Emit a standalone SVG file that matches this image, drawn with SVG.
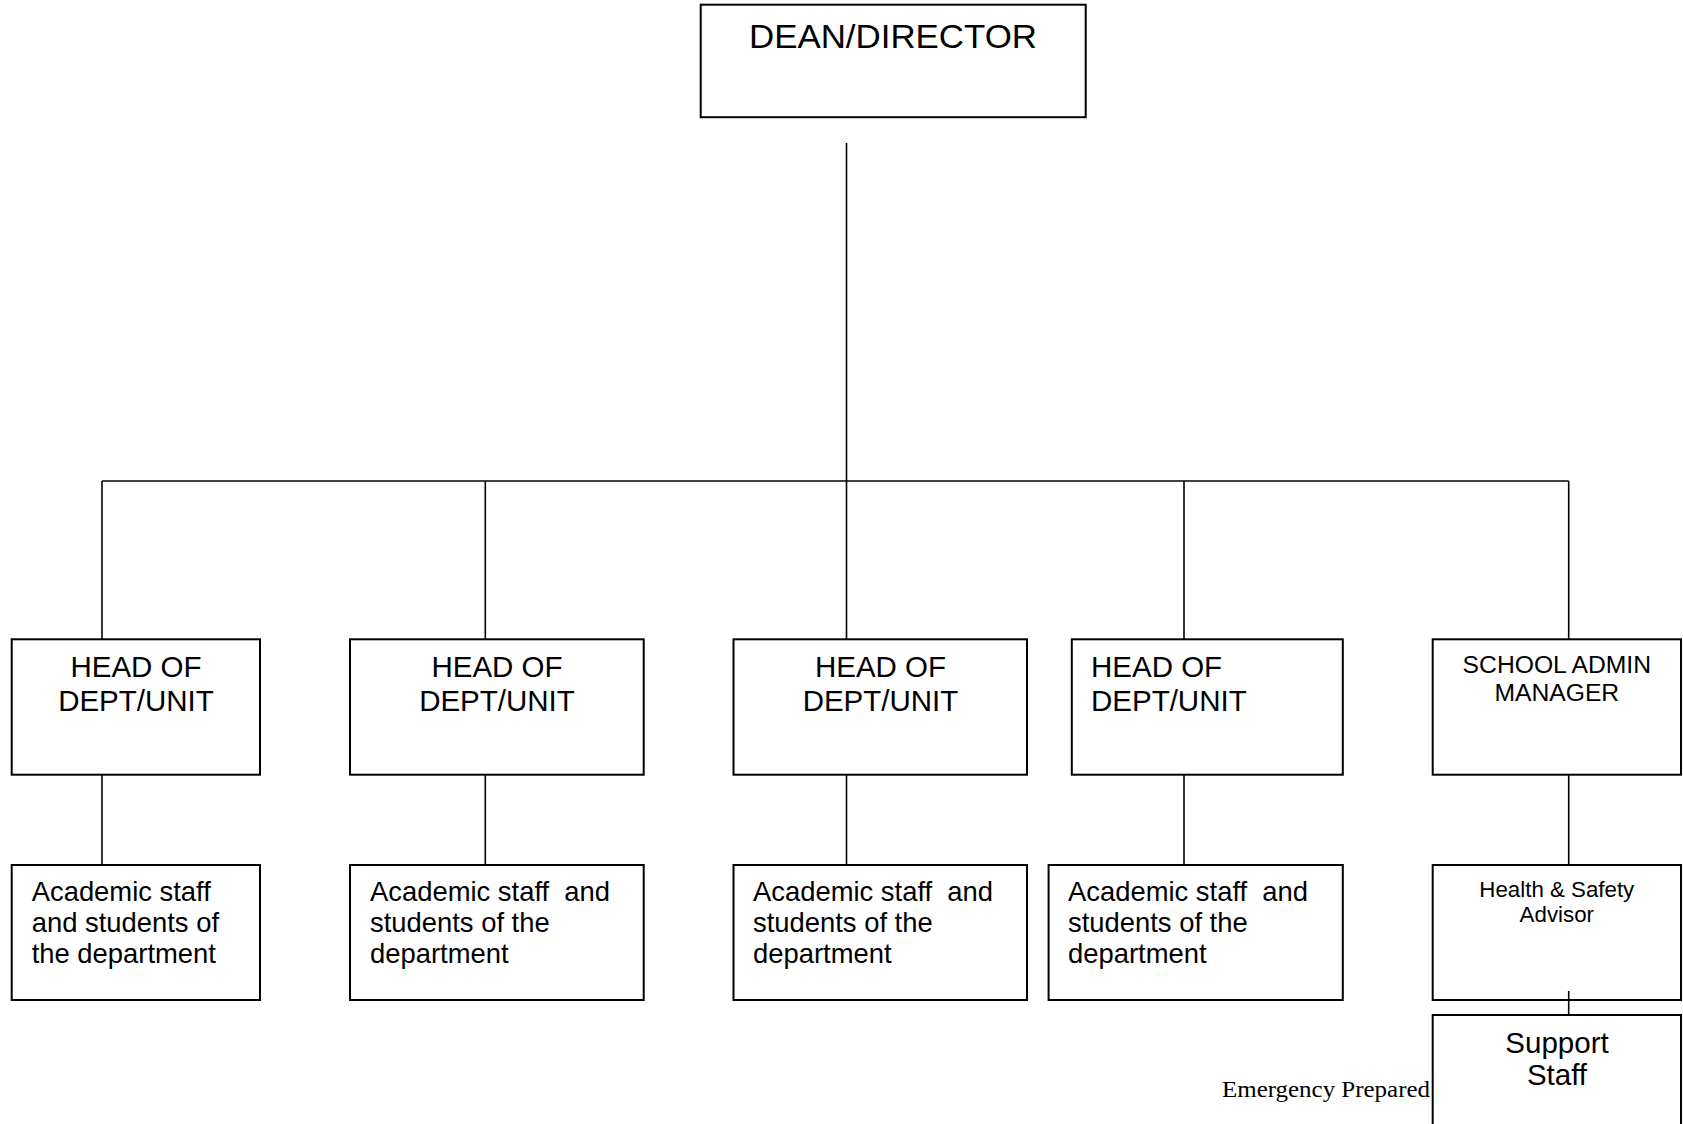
<svg xmlns="http://www.w3.org/2000/svg" width="1683" height="1124" viewBox="0 0 1683 1124">
<style>
.box{fill:#fff;stroke:#000;stroke-width:2}
.ln{stroke:#000;stroke-width:1.6;fill:none}
.t{font-family:"Liberation Sans",Arial,sans-serif;fill:#000;white-space:pre}
.h{font-size:29.5px;text-anchor:middle}
.a{font-size:27.4px}
.s{font-size:24.7px;text-anchor:middle}
.hs{font-size:22.3px;text-anchor:middle}
.ser{font-family:"Liberation Serif","Times New Roman",serif;font-size:23px;fill:#000}
</style>
<rect width="1683" height="1124" fill="#fff"/>
<text class="ser" x="1222" y="1097" textLength="208" lengthAdjust="spacingAndGlyphs">Emergency Prepared</text>
<g id="connectors">
<line class="ln" x1="846.5" y1="143" x2="846.5" y2="481"/>
<line class="ln" x1="102" y1="481" x2="1568.7" y2="481"/>
<line class="ln" x1="102" y1="481" x2="102" y2="639"/>
<line class="ln" x1="485.3" y1="481" x2="485.3" y2="639"/>
<line class="ln" x1="846.5" y1="481" x2="846.5" y2="639"/>
<line class="ln" x1="1184" y1="481" x2="1184" y2="639"/>
<line class="ln" x1="1568.7" y1="481" x2="1568.7" y2="639"/>
<line class="ln" x1="102" y1="775" x2="102" y2="865"/>
<line class="ln" x1="485.3" y1="775" x2="485.3" y2="865"/>
<line class="ln" x1="846.5" y1="775" x2="846.5" y2="865"/>
<line class="ln" x1="1184" y1="775" x2="1184" y2="865"/>
<line class="ln" x1="1568.7" y1="775" x2="1568.7" y2="865"/>
</g>
<g id="dean">
<rect class="box" x="700.7" y="4.7" width="385" height="112.5"/>
<text class="t" x="893" y="48" font-size="34" text-anchor="middle" textLength="288" lengthAdjust="spacingAndGlyphs">DEAN/DIRECTOR</text>
</g>
<g id="head1">
<rect class="box" x="11.7" y="639.3" width="248.3" height="135.4"/>
<text class="t h" x="136" y="677">HEAD OF</text>
<text class="t h" x="136" y="711">DEPT/UNIT</text>
</g>
<g id="head2">
<rect class="box" x="350" y="639.3" width="293.7" height="135.4"/>
<text class="t h" x="497" y="677">HEAD OF</text>
<text class="t h" x="497" y="711">DEPT/UNIT</text>
</g>
<g id="head3">
<rect class="box" x="733.5" y="639.3" width="293.5" height="135.4"/>
<text class="t h" x="880.5" y="677">HEAD OF</text>
<text class="t h" x="880.5" y="711">DEPT/UNIT</text>
</g>
<g id="head4">
<rect class="box" x="1071.8" y="639.3" width="271" height="135.4"/>
<text class="t h" x="1091" y="677" style="text-anchor:start">HEAD OF</text>
<text class="t h" x="1091" y="711" style="text-anchor:start">DEPT/UNIT</text>
</g>
<g id="admin">
<rect class="box" x="1432.7" y="639.3" width="248.3" height="135.4"/>
<text class="t s" x="1556.8" y="673">SCHOOL ADMIN</text>
<text class="t s" x="1556.8" y="701">MANAGER</text>
</g>
<g id="staff1">
<rect class="box" x="11.7" y="865" width="248.3" height="135"/>
<text class="t a" x="31.7" y="901">Academic staff</text>
<text class="t a" x="31.7" y="932">and students of</text>
<text class="t a" x="31.7" y="963">the department</text>
</g>
<g id="staff2">
<rect class="box" x="350" y="865" width="293.7" height="135"/>
<text class="t a" x="370" y="901">Academic staff  and</text>
<text class="t a" x="370" y="932">students of the</text>
<text class="t a" x="370" y="963">department</text>
</g>
<g id="staff3">
<rect class="box" x="733.5" y="865" width="293.5" height="135"/>
<text class="t a" x="753" y="901">Academic staff  and</text>
<text class="t a" x="753" y="932">students of the</text>
<text class="t a" x="753" y="963">department</text>
</g>
<g id="staff4">
<rect class="box" x="1048.6" y="865" width="294.2" height="135"/>
<text class="t a" x="1068" y="901">Academic staff  and</text>
<text class="t a" x="1068" y="932">students of the</text>
<text class="t a" x="1068" y="963">department</text>
</g>
<g id="hsa">
<rect class="box" x="1432.7" y="865" width="248.3" height="135"/>
<text class="t hs" x="1556.8" y="897">Health &amp; Safety</text>
<text class="t hs" x="1556.8" y="922">Advisor</text>
</g>
<g id="support">
<rect class="box" x="1432.7" y="1015" width="248.3" height="125"/>
<text class="t h" x="1557" y="1053">Support</text>
<text class="t h" x="1557" y="1085">Staff</text>
</g>
<g id="connectors-2">
<line class="ln" x1="1568.7" y1="991" x2="1568.7" y2="1015"/>
</g>
</svg>
